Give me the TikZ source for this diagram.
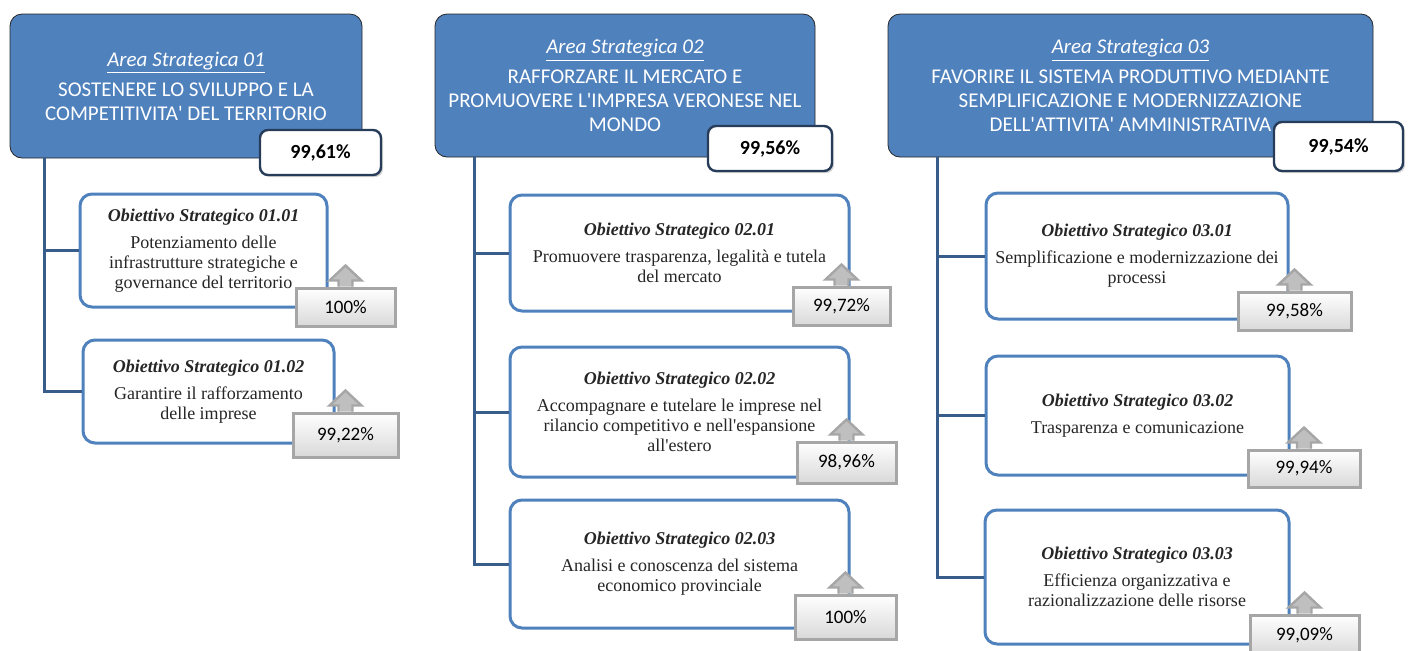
\documentclass[tikz,border=0pt]{standalone}
\usepackage{fontspec}
\setmainfont{Liberation Serif}
\newfontfamily\calibri{Carlito}
\usepackage{tikz}
\usetikzlibrary{shadows}
\definecolor{areablue}{RGB}{79,129,189}
\definecolor{linkblue}{RGB}{56,93,138}
\definecolor{scoreedge}{RGB}{38,60,88}

\begin{document}
\begin{tikzpicture}%
  [x=0.5pt,y=-0.5pt]
  \tikzstyle{area node}=[rectangle,rounded corners=6pt,draw=black!85,fill=areablue,
    text=white,align=center,inner sep=0,font=\calibri\fontsize{10.5}{12}\selectfont]
  \tikzstyle{obj node}=[rectangle,rounded corners=6pt,draw=areablue,line width=1.5pt,
    fill=white,text=black!85,align=center,inner sep=0,font=\fontsize{9}{10}\selectfont]
  \tikzstyle{score node}=[rectangle,rounded corners=4pt,draw=scoreedge,line width=1.2pt,
    fill=white,drop shadow={opacity=0.35,shadow xshift=1pt,shadow yshift=-1pt},
    font=\calibri\bfseries\fontsize{10}{12}\selectfont]
  \tikzstyle{val node}=[rectangle,draw=gray!70,line width=1.5pt,top color=white,
    bottom color=gray!30,font=\calibri\fontsize{9.5}{11}\selectfont]
  \tikzstyle{val arrow}=[draw=gray!70,line width=1.2pt,fill=gray!50]
  \tikzstyle{link}=[draw=linkblue,line width=1.5pt]
  \useasboundingbox (0,0) rectangle (1410,650);

  % aree strategiche
  \node(a1)[area node,minimum width=176pt,minimum height=72pt] at (186,86)
    {{\itshape\underline{Area Strategica 01}}\\[3pt]
     SOSTENERE LO SVILUPPO E LA\\COMPETITIVITA\textquotesingle{} DEL TERRITORIO};
  \node(a2)[area node,minimum width=190pt,minimum height=71.5pt] at (625,85.5)
    {{\itshape\underline{Area Strategica 02}}\\[3pt]
     RAFFORZARE IL MERCATO E\\PROMUOVERE L\textquotesingle IMPRESA VERONESE NEL\\MONDO};
  \node(a3)[area node,minimum width=242.5pt,minimum height=71.5pt] at (1130.5,85.5)
    {{\itshape\underline{Area Strategica 03}}\\[3pt]
     FAVORIRE IL SISTEMA PRODUTTIVO MEDIANTE\\SEMPLIFICAZIONE E MODERNIZZAZIONE\\
     DELL\textquotesingle ATTIVITA\textquotesingle{} AMMINISTRATIVA};

  % obiettivi strategici
  \node(o11)[obj node,minimum width=123.5pt,minimum height=56.5pt] at (203.5,250.5)
    {{\bfseries\itshape Obiettivo Strategico 01.01}\\[3.5pt]
     Potenziamento delle\\infrastrutture strategiche e\\governance del territorio};
  \node(o12)[obj node,minimum width=125.5pt,minimum height=51.5pt] at (208.5,391.5)
    {{\bfseries\itshape Obiettivo Strategico 01.02}\\[3.5pt]
     Garantire il rafforzamento\\delle imprese};
  \node(o21)[obj node,minimum width=169.5pt,minimum height=58pt] at (679.5,253)
    {{\bfseries\itshape Obiettivo Strategico 02.01}\\[3.5pt]
     Promuovere trasparenza, legalità e tutela\\del mercato};
  \node(o22)[obj node,minimum width=169.5pt,minimum height=65pt] at (679.5,412)
    {{\bfseries\itshape Obiettivo Strategico 02.02}\\[3.5pt]
     Accompagnare e tutelare le imprese nel\\rilancio competitivo e nell\textquotesingle espansione\\
     all\textquotesingle estero};
  \node(o23)[obj node,minimum width=169.5pt,minimum height=64pt] at (679.5,564)
    {{\bfseries\itshape Obiettivo Strategico 02.03}\\[3.5pt]
     Analisi e conoscenza del sistema\\economico provinciale};
  \node(o31)[obj node,minimum width=151pt,minimum height=63pt] at (1137,256)
    {{\bfseries\itshape Obiettivo Strategico 03.01}\\[3.5pt]
     Semplificazione e modernizzazione dei\\processi};
  \node(o32)[obj node,minimum width=151.5pt,minimum height=59.5pt] at (1137.5,415.5)
    {{\bfseries\itshape Obiettivo Strategico 03.02}\\[3.5pt]
     Trasparenza e comunicazione};
  \node(o33)[obj node,minimum width=152pt,minimum height=67pt] at (1137,577)
    {{\bfseries\itshape Obiettivo Strategico 03.03}\\[3.5pt]
     Efficienza organizzativa e\\razionalizzazione delle risorse};

  % collegamenti
  \coordinate(r1) at (44,158);
  \coordinate(r2) at (474,157);
  \coordinate(r3) at (937,157);
  \draw[link] (r1) |- (o12.west);
  \draw[link] (r1 |- o11.west) -- (o11.west);
  \draw[link] (r2) |- (o23.west);
  \draw[link] (r2 |- o21.west) -- (o21.west);
  \draw[link] (r2 |- o22.west) -- (o22.west);
  \draw[link] (r3) |- (o33.west);
  \draw[link] (r3 |- o31.west) -- (o31.west);
  \draw[link] (r3 |- o32.west) -- (o32.west);

  % risultati area
  \node(s1)[score node,minimum width=60.5pt,minimum height=22.5pt] at (320.5,152.5) {99,61\%};
  \node(s2)[score node,minimum width=62pt,minimum height=22.5pt] at (770,148.5) {99,56\%};
  \node(s3)[score node,minimum width=64.5pt,minimum height=24.5pt] at (1338.5,146.5) {99,54\%};

  % risultati obiettivi
  \node(v11)[val node,minimum width=49.5pt,minimum height=19pt] at (345.5,307) {100\%};
  \node(v12)[val node,minimum width=52.5pt,minimum height=22pt] at (345.5,435) {99,22\%};
  \node(v21)[val node,minimum width=48.5pt,minimum height=19pt] at (841.5,306) {99,72\%};
  \node(v22)[val node,minimum width=49.5pt,minimum height=20.5pt] at (846.5,462.5) {98,96\%};
  \node(v23)[val node,minimum width=50.5pt,minimum height=22pt] at (845.5,617) {100\%};
  \node(v31)[val node,minimum width=56.5pt,minimum height=19pt] at (1294.5,311) {99,58\%};
  \node(v32)[val node,minimum width=56pt,minimum height=18.5pt] at (1304,468.5) {99,94\%};
  \node(v33)[val node,minimum width=54.5pt,minimum height=20pt] at (1304.5,635) {99,09\%};
  \foreach \v in {v11,v12,v21,v22,v23,v31,v32,v33}
    \draw[val arrow] ([xshift=-3.5pt]\v.north) -- ++(0,-6) -- ++(-9,0)
      -- ++(16,-15) -- ++(16,15) -- ++(-9,0) -- ++(0,6);
\end{tikzpicture}
\end{document}
